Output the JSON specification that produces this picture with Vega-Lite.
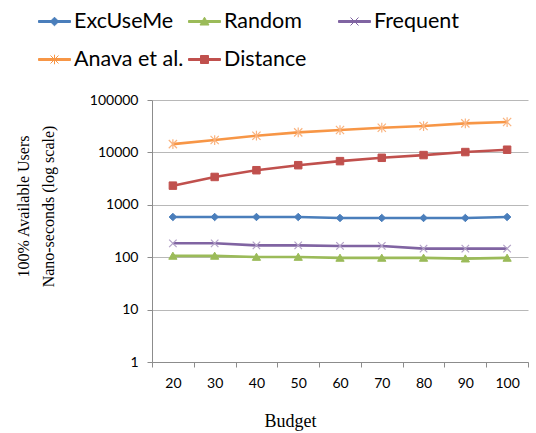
{
  "$schema": "https://vega.github.io/schema/vega-lite/v6.json",
  "width": 376,
  "height": 262,
  "autosize": {"type": "none"},
  "padding": {"left": 152, "top": 100, "right": 8, "bottom": 71},
  "background": "white",
  "config": {
    "view": {"stroke": null},
    "axis": {
      "domainColor": "#8C8C8C",
      "tickColor": "#8C8C8C",
      "gridColor": "#B8B8B8",
      "gridWidth": 1,
      "labelFont": "Lato",
      "labelFontSize": 14,
      "labelColor": "#000000",
      "tickSize": 5,
      "labelPadding": 9
    }
  },
  "data": {
    "values": [
      {"budget": 20, "series": "ExcUseMe", "value": 585},
      {"budget": 30, "series": "ExcUseMe", "value": 585},
      {"budget": 40, "series": "ExcUseMe", "value": 585},
      {"budget": 50, "series": "ExcUseMe", "value": 585},
      {"budget": 60, "series": "ExcUseMe", "value": 560},
      {"budget": 70, "series": "ExcUseMe", "value": 560},
      {"budget": 80, "series": "ExcUseMe", "value": 560},
      {"budget": 90, "series": "ExcUseMe", "value": 560},
      {"budget": 100, "series": "ExcUseMe", "value": 585},
      {"budget": 20, "series": "Random", "value": 106},
      {"budget": 30, "series": "Random", "value": 106},
      {"budget": 40, "series": "Random", "value": 101},
      {"budget": 50, "series": "Random", "value": 101},
      {"budget": 60, "series": "Random", "value": 97},
      {"budget": 70, "series": "Random", "value": 97},
      {"budget": 80, "series": "Random", "value": 97},
      {"budget": 90, "series": "Random", "value": 94},
      {"budget": 100, "series": "Random", "value": 97},
      {"budget": 20, "series": "Frequent", "value": 184},
      {"budget": 30, "series": "Frequent", "value": 184},
      {"budget": 40, "series": "Frequent", "value": 168},
      {"budget": 50, "series": "Frequent", "value": 168},
      {"budget": 60, "series": "Frequent", "value": 164},
      {"budget": 70, "series": "Frequent", "value": 164},
      {"budget": 80, "series": "Frequent", "value": 146},
      {"budget": 90, "series": "Frequent", "value": 146},
      {"budget": 100, "series": "Frequent", "value": 146},
      {"budget": 20, "series": "Anava et al.", "value": 14400},
      {"budget": 30, "series": "Anava et al.", "value": 17200},
      {"budget": 40, "series": "Anava et al.", "value": 20800},
      {"budget": 50, "series": "Anava et al.", "value": 24100},
      {"budget": 60, "series": "Anava et al.", "value": 26700},
      {"budget": 70, "series": "Anava et al.", "value": 29600},
      {"budget": 80, "series": "Anava et al.", "value": 31800},
      {"budget": 90, "series": "Anava et al.", "value": 35800},
      {"budget": 100, "series": "Anava et al.", "value": 38000},
      {"budget": 20, "series": "Distance", "value": 2320},
      {"budget": 30, "series": "Distance", "value": 3400},
      {"budget": 40, "series": "Distance", "value": 4570},
      {"budget": 50, "series": "Distance", "value": 5700},
      {"budget": 60, "series": "Distance", "value": 6810},
      {"budget": 70, "series": "Distance", "value": 7890},
      {"budget": 80, "series": "Distance", "value": 8890},
      {"budget": 90, "series": "Distance", "value": 10150},
      {"budget": 100, "series": "Distance", "value": 11250}
    ]
  },
  "encoding": {
    "x": {
      "field": "budget",
      "type": "ordinal",
      "scale": {"paddingInner": 0, "paddingOuter": 0},
      "axis": {
        "title": "Budget",
        "labelAngle": 0,
        "tickBand": "extent",
        "grid": false,
        "titleFont": "Liberation Serif",
        "titleFontSize": 18,
        "titleFontWeight": "normal",
        "titleColor": "#000000",
        "titleX": 138,
        "titleY": 64,
        "titleAlign": "center",
        "titleBaseline": "alphabetic"
      }
    },
    "y": {
      "field": "value",
      "type": "quantitative",
      "scale": {"type": "log", "domain": [1, 100000], "nice": false},
      "axis": {
        "title": ["100% Available Users", "Nano-seconds (log scale)"],
        "values": [1, 10, 100, 1000, 10000, 100000],
        "format": "d",
        "grid": true,
        "titleFont": "Liberation Serif",
        "titleFontSize": 16,
        "titleFontWeight": "normal",
        "titleColor": "#000000",
        "titleAngle": -90,
        "titleAlign": "center",
        "titleBaseline": "alphabetic",
        "titleLineHeight": 25,
        "titleX": -124,
        "titleY": 106
      }
    }
  },
  "layer": [
    {
      "mark": {"type": "line", "strokeWidth": 2.6},
      "encoding": {
        "color": {
          "field": "series",
          "type": "nominal",
          "scale": {
            "domain": ["ExcUseMe", "Random", "Frequent", "Anava et al.", "Distance"],
            "range": ["#4A7EBB", "#9BBB59", "#8064A2", "#F79646", "#C0504D"]
          },
          "legend": {
            "orient": "none",
            "legendX": -114,
            "legendY": -95,
            "columns": 3,
            "direction": "horizontal",
            "gridAlign": "all",
            "title": null,
            "symbolSize": 1024,
            "symbolType": "M-1,-0.0625H1V0.0625H-1Z",
            "labelFont": "Lato",
            "labelFontSize": 21.5,
            "labelColor": "#000000",
            "labelOffset": 3,
            "columnPadding": 2,
            "rowPadding": 11,
            "encode": {
              "symbols": {
                "update": {
                  "shape": {"signal": "datum.value === 'ExcUseMe' ? 'M-1,-0.0625H1V0.0625H-1ZM0,-0.27L0.27,0L0,0.27L-0.27,0Z' : datum.value === 'Random' ? 'M-1,-0.0625H1V0.0625H-1ZM0,-0.27L0.28,0.22L-0.28,0.22Z' : datum.value === 'Frequent' ? 'M-1,-0.0625H1V0.0625H-1ZM-0.25,-0.25L0.25,0.25M-0.25,0.25L0.25,-0.25' : datum.value === 'Anava et al.' ? 'M-1,-0.0625H1V0.0625H-1ZM-0.25,-0.25L0.25,0.25M-0.25,0.25L0.25,-0.25M0,-0.3V0.3' : 'M-1,-0.0625H1V0.0625H-1ZM-0.25,-0.25H0.25V0.25H-0.25Z'"},
                  "fill": {"scale": "color", "field": "value"},
                  "stroke": {"scale": "color", "field": "value"},
                  "strokeWidth": {"value": 1},
                  "opacity": {"value": 1}
                }
              }
            }
          }
        }
      }
    },
    {
      "transform": [{"filter": "datum.series === 'ExcUseMe'"}],
      "mark": {"type": "point", "shape": "M0,-1L1,0L0,1L-1,0Z", "filled": true, "fill": "#4A7EBB", "stroke": "#4A7EBB", "size": 56, "opacity": 1, "strokeWidth": 1}
    },
    {
      "transform": [{"filter": "datum.series === 'Random'"}],
      "mark": {"type": "point", "shape": "M0,-1L1.1,0.9L-1.1,0.9Z", "filled": true, "fill": "#9BBB59", "stroke": "#9BBB59", "size": 56, "opacity": 1, "strokeWidth": 1}
    },
    {
      "transform": [{"filter": "datum.series === 'Frequent'"}],
      "mark": {"type": "point", "shape": "M-1,-1L1,1M-1,1L1,-1", "filled": false, "fill": null, "stroke": "#B3A2C7", "size": 56, "opacity": 1, "strokeWidth": 1.2}
    },
    {
      "transform": [{"filter": "datum.series === 'Anava et al.'"}],
      "mark": {"type": "point", "shape": "M-1.1,-1.1L1.1,1.1M-1.1,1.1L1.1,-1.1M0,-1.3V1.3", "filled": false, "fill": null, "stroke": "#FAB37E", "size": 56, "opacity": 1, "strokeWidth": 1.2}
    },
    {
      "transform": [{"filter": "datum.series === 'Distance'"}],
      "mark": {"type": "point", "shape": "M-1,-1H1V1H-1Z", "filled": true, "fill": "#C0504D", "stroke": "#C0504D", "size": 56, "opacity": 1, "strokeWidth": 1}
    }
  ]
}
